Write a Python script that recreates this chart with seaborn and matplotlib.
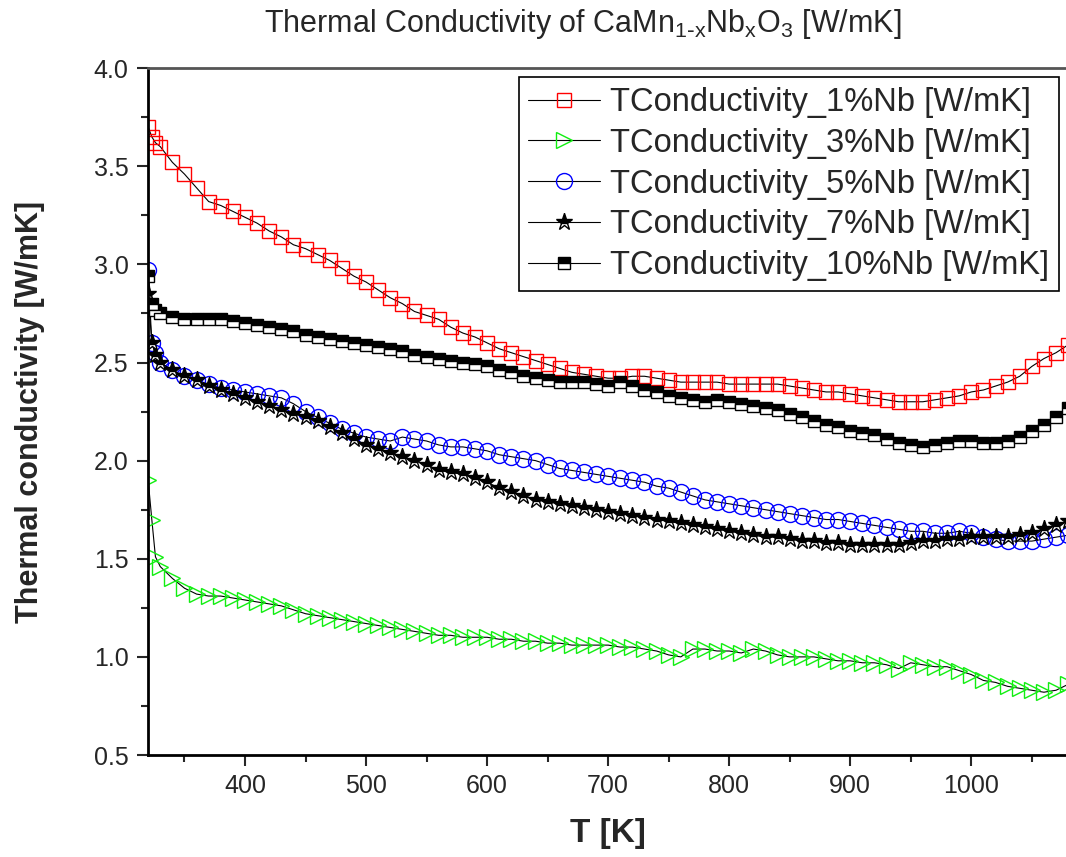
import numpy as np
import pandas as pd
import seaborn as sns
import matplotlib.pyplot as plt
from matplotlib.ticker import MultipleLocator

# temperaturas (K): primeros puntos muy juntos, luego cada 10 K
T = [320, 323, 326] + list(range(330, 1090, 10))

nb1 = [3.70, 3.65, 3.62,
       3.60, 3.52, 3.46, 3.39, 3.32, 3.30, 3.27, 3.24, 3.21, 3.17,
       3.14, 3.10, 3.08, 3.05, 3.02, 2.98, 2.94, 2.91, 2.87, 2.83,
       2.80, 2.76, 2.74, 2.72, 2.68, 2.65, 2.63, 2.60, 2.57, 2.55,
       2.53, 2.51, 2.49, 2.47, 2.45, 2.44, 2.43, 2.42, 2.42, 2.43,
       2.43, 2.42, 2.41, 2.40, 2.40, 2.40, 2.40, 2.39, 2.39, 2.39,
       2.39, 2.39, 2.38, 2.37, 2.36, 2.35, 2.35, 2.34, 2.33, 2.32,
       2.31, 2.30, 2.30, 2.30, 2.31, 2.32, 2.33, 2.35, 2.36, 2.38,
       2.40, 2.43, 2.48, 2.52, 2.55, 2.59]

nb3 = [1.90, 1.70, 1.51,
       1.46, 1.40, 1.35, 1.32, 1.31, 1.31, 1.30, 1.29, 1.28, 1.27,
       1.26, 1.24, 1.22, 1.21, 1.20, 1.19, 1.18, 1.17, 1.16, 1.15,
       1.14, 1.13, 1.12, 1.11, 1.11, 1.10, 1.10, 1.10, 1.09, 1.09,
       1.08, 1.08, 1.07, 1.07, 1.06, 1.06, 1.06, 1.06, 1.05, 1.05,
       1.04, 1.03, 1.01, 1.00, 1.04, 1.04, 1.03, 1.03, 1.02, 1.04,
       1.03, 1.01, 1.00, 1.00, 1.00, 0.99, 0.98, 0.98, 0.97, 0.97,
       0.96, 0.94, 0.97, 0.96, 0.95, 0.95, 0.93, 0.91, 0.88, 0.87,
       0.85, 0.84, 0.83, 0.82, 0.83, 0.86]

nb5 = [2.97, 2.60, 2.55,
       2.50, 2.46, 2.43, 2.41, 2.39, 2.37, 2.36, 2.35, 2.34, 2.33,
       2.32, 2.29, 2.25, 2.22, 2.19, 2.16, 2.14, 2.12, 2.11, 2.10,
       2.12, 2.11, 2.10, 2.08, 2.07, 2.07, 2.06, 2.05, 2.03, 2.02,
       2.01, 2.00, 1.98, 1.96, 1.95, 1.94, 1.93, 1.92, 1.91, 1.90,
       1.89, 1.87, 1.86, 1.84, 1.82, 1.80, 1.79, 1.78, 1.77, 1.76,
       1.75, 1.74, 1.73, 1.72, 1.71, 1.70, 1.70, 1.69, 1.68, 1.67,
       1.66, 1.65, 1.64, 1.64, 1.63, 1.63, 1.64, 1.63, 1.61, 1.60,
       1.59, 1.59, 1.59, 1.60, 1.61, 1.62]

nb7 = [2.85, 2.60, 2.54,
       2.50, 2.46, 2.43, 2.41, 2.38, 2.36, 2.34, 2.32, 2.30, 2.28,
       2.26, 2.24, 2.22, 2.20, 2.17, 2.14, 2.11, 2.08, 2.06, 2.04,
       2.02, 2.00, 1.98, 1.95, 1.94, 1.93, 1.91, 1.89, 1.86, 1.84,
       1.82, 1.80, 1.79, 1.78, 1.77, 1.76, 1.75, 1.74, 1.73, 1.72,
       1.71, 1.70, 1.69, 1.68, 1.67, 1.66, 1.65, 1.64, 1.63, 1.62,
       1.61, 1.61, 1.60, 1.59, 1.59, 1.58, 1.58, 1.57, 1.57, 1.57,
       1.57, 1.57, 1.58, 1.59, 1.59, 1.60, 1.60, 1.61, 1.61, 1.61,
       1.61, 1.62, 1.63, 1.65, 1.67, 1.69]

nb10 = [2.94, 2.80, 2.77,
        2.75, 2.73, 2.72, 2.72, 2.72, 2.72, 2.71, 2.70, 2.69, 2.68,
        2.67, 2.66, 2.64, 2.63, 2.62, 2.61, 2.60, 2.59, 2.58, 2.57,
        2.56, 2.54, 2.53, 2.52, 2.51, 2.50, 2.49, 2.48, 2.46, 2.45,
        2.43, 2.42, 2.41, 2.40, 2.40, 2.40, 2.39, 2.38, 2.40, 2.38,
        2.36, 2.35, 2.33, 2.32, 2.31, 2.30, 2.31, 2.30, 2.29, 2.28,
        2.27, 2.26, 2.24, 2.22, 2.20, 2.18, 2.17, 2.15, 2.14, 2.13,
        2.11, 2.09, 2.08, 2.07, 2.08, 2.09, 2.10, 2.10, 2.09, 2.09,
        2.10, 2.12, 2.15, 2.18, 2.22, 2.27]

etiquetas = ["TConductivity_1%Nb [W/mK]", "TConductivity_3%Nb [W/mK]",
             "TConductivity_5%Nb [W/mK]", "TConductivity_7%Nb [W/mK]",
             "TConductivity_10%Nb [W/mK]"]

datos = pd.DataFrame({"T": T, etiquetas[0]: nb1, etiquetas[1]: nb3,
                      etiquetas[2]: nb5, etiquetas[3]: nb7, etiquetas[4]: nb10})

# estilo tipo Origin de cada serie
estilos = [
    dict(marker="s", markersize=9.5, markerfacecolor="none", markeredgecolor="#ff0000"),
    dict(marker=">", markersize=11.5, markerfacecolor="none", markeredgecolor="#11ee11"),
    dict(marker="o", markersize=11.5, markerfacecolor="none", markeredgecolor="#0000ff"),
    dict(marker="*", markersize=12.5, fillstyle="top", markerfacecolor="black",
         markerfacecoloralt="white", markeredgecolor="black"),
    dict(marker="s", markersize=8, fillstyle="top", markerfacecolor="black",
         markerfacecoloralt="white", markeredgecolor="black"),
]

sns.set_style("white")
plt.rcParams["font.family"] = ["Liberation Sans", "DejaVu Sans"]

fig = plt.figure(figsize=(10.66, 8.57), dpi=100)
ax = fig.add_axes([0.139, 0.119, 0.863, 0.8015])

for nombre, est in zip(etiquetas, estilos):
    sns.lineplot(data=datos, x="T", y=nombre, ax=ax, color="black", linewidth=0.8,
                 markeredgewidth=1.0, label=nombre, **est)

ax.set_xlim(320, 1080)
ax.set_ylim(0.5, 4.0)
ax.xaxis.set_minor_locator(MultipleLocator(50))
ax.yaxis.set_major_locator(MultipleLocator(0.5))
ax.yaxis.set_minor_locator(MultipleLocator(0.25))
ax.set_xticks([400, 500, 600, 700, 800, 900, 1000])
ax.yaxis.set_major_formatter(plt.FormatStrFormatter("%.1f"))

ax.tick_params(axis="both", which="major", direction="out", length=8, width=1.5,
               labelsize=18, pad=6, bottom=True, left=True)
ax.tick_params(axis="both", which="minor", direction="out", length=5, width=1.5,
               bottom=True, left=True)

for lado in ["left", "bottom"]:
    ax.spines[lado].set_linewidth(2)
    ax.spines[lado].set_color("black")
ax.spines["top"].set_linewidth(2)
ax.spines["top"].set_color("#555555")
ax.spines["right"].set_linewidth(2)

ax.set_xlabel("T [K]", fontsize=24, fontweight="bold")
ax.set_ylabel("Thermal conductivity [W/mK]", fontsize=22, fontweight="bold")
ax.xaxis.set_label_coords(0.5, -0.092)
ax.yaxis.set_label_coords(-0.112, 0.5)

fig.text(0.547, 0.972,
         r"Thermal Conductivity of CaMn$\mathregular{_{1\text{-}x}}$Nb$\mathregular{_x}$O$\mathregular{_3}$ [W/mK]",
         ha="center", va="center", fontsize=22)

leg = ax.legend(loc="upper right", fontsize=23.5, frameon=True, fancybox=False,
                edgecolor="black", framealpha=1, borderaxespad=0.28,
                labelspacing=0.3, borderpad=0.3, handlelength=2.2, handletextpad=0.3)
leg.get_frame().set_linewidth(1.2)

plt.savefig("out.png", dpi=100)
